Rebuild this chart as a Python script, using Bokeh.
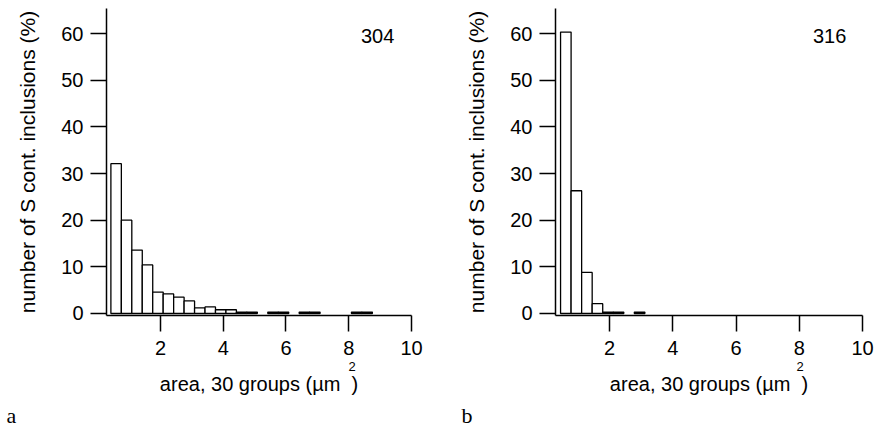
from bokeh.plotting import figure
from bokeh.layouts import row
from bokeh.models import Label, FixedTicker, Range1d, Title
from bokeh.embed import file_html
from bokeh.resources import INLINE

# ---- data (percent of S-containing inclusions per area group, 30 groups) ----
n_groups = 30
bin_width = 10 / n_groups
left_first_edge = 0.42
right_first_edge = 0.45

left_percent = [32.1, 20.0, 13.6, 10.4, 4.6, 4.2, 3.5, 2.7, 1.2, 1.4,
                0.8, 0.8, 0.3, 0.3, 0.0, 0.3, 0.3, 0.0, 0.3, 0.3,
                0.0, 0.0, 0.0, 0.3, 0.3, 0.0, 0.0, 0.0, 0.0, 0.0]
right_percent = [60.3, 26.3, 8.8, 2.1, 0.3, 0.3, 0.0, 0.3, 0.0, 0.0,
                 0.0, 0.0, 0.0, 0.0, 0.0, 0.0, 0.0, 0.0, 0.0, 0.0,
                 0.0, 0.0, 0.0, 0.0, 0.0, 0.0, 0.0, 0.0, 0.0, 0.0]
left_name = "304"
right_name = "316"
y_ticks = [0, 10, 20, 30, 40, 50, 60]
x_ticks = [2, 4, 6, 8, 10]
y_title = "number of S cont. inclusions (%)"
x_title = "area, 30 groups (\u00b5m\u00a0\u00a0)"
x_title_sup = "2"

FONT = "Liberation Sans"


def panel(percent, first_edge, name, letter, width, border_left, border_right,
          x_start, name_x, sup_offset, letter_offset):
    p = figure(width=width, height=432,
               x_range=Range1d(x_start, 10), y_range=Range1d(-0.43, 65.36),
               output_backend="svg", toolbar_location=None,
               min_border_left=border_left, min_border_right=border_right,
               min_border_top=8, min_border_bottom=117)
    lefts, rights, tops = [], [], []
    for i, v in enumerate(percent):
        if v > 0:
            lefts.append(first_edge + i * bin_width)
            rights.append(first_edge + (i + 1) * bin_width)
            tops.append(v)
    p.quad(left=lefts, right=rights, bottom=0, top=tops,
           fill_color="white", line_color="black", line_width=1.3)

    p.xgrid.visible = False
    p.ygrid.visible = False
    p.outline_line_color = None
    p.background_fill_color = "white"
    p.border_fill_color = "white"

    for ax in (p.xaxis[0], p.yaxis[0]):
        ax.axis_line_width = 1.5
        ax.axis_line_color = "black"
        ax.major_tick_line_width = 1.5
        ax.major_tick_line_color = "black"
        ax.major_tick_out = 16
        ax.major_tick_in = 0
        ax.minor_tick_line_color = None
        ax.major_label_text_font = FONT
        ax.major_label_text_font_size = "20px"
        ax.major_label_text_color = "black"
        ax.axis_label_text_font = FONT
        ax.axis_label_text_font_style = "normal"
        ax.axis_label_text_color = "black"

    p.yaxis.ticker = FixedTicker(ticks=y_ticks)
    p.xaxis.ticker = FixedTicker(ticks=x_ticks)
    p.yaxis.major_label_standoff = 7
    p.xaxis.major_label_standoff = 9
    p.yaxis.axis_label = y_title
    p.yaxis.axis_label_text_font_size = "21px"
    p.yaxis.axis_label_standoff = 19

    # x title built from stacked titles below the axis: superscript, text, panel letter
    p.add_layout(Title(text=x_title_sup, align="left", offset=sup_offset,
                       standoff=4, vertical_align="bottom",
                       text_font=FONT, text_font_size="13px",
                       text_font_style="normal", text_color="black"), "below")
    p.add_layout(Title(text=x_title, align="center", standoff=0,
                       vertical_align="top",
                       text_font=FONT, text_font_size="20px",
                       text_font_style="normal", text_color="black"), "below")
    p.add_layout(Title(text=letter, align="left", offset=letter_offset,
                       standoff=8, vertical_align="bottom",
                       text_font="Liberation Serif",
                       text_font_size="22px", text_font_style="normal",
                       text_color="black"), "below")

    p.add_layout(Label(x=name_x, y=59.5, text=name, text_font=FONT,
                       text_font_size="20px", text_align="center",
                       text_baseline="middle", text_color="black"))
    return p


p1 = panel(left_percent, left_first_edge, left_name, "a", 457, 106, 46,
           0.28, 8.92, 242, -100)
p2 = panel(right_percent, right_first_edge, right_name, "b", 421, 98, 16,
           0.29, 8.96, 241, -94)

layout = row(p1, p2)
open("out.html", "w").write(file_html(layout, INLINE))
